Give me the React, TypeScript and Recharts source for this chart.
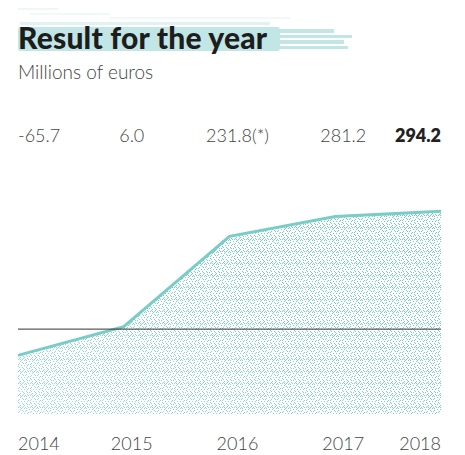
import { Area, AreaChart, ReferenceLine, XAxis, YAxis } from "recharts";

const years = ["2014", "2015", "2016", "2017", "2018"];
const results = [-65.7, 6.0, 231.8, 281.2, 294.2];
const valueLabels = ["-65.7", "6.0", "231.8(*)", "281.2", "294.2"];

const data = years.map((year, i) => ({ year, result: results[i], label: valueLabels[i] }));

const TEAL = "#79cdc7";
const DOT = "#6fcac3";
const FONT = "Lato, 'Noto Sans', sans-serif";

// hand-placed speckles for the stipple tile (12x12)
const SPECKLES = [
  [0, 0], [5, 1], [9, 0], [2, 2], [7, 3], [11, 3], [4, 4], [0, 5], [9, 5], [6, 6], [2, 7],
  [10, 7], [5, 8], [8, 9], [0, 9], [3, 10], [11, 10], [6, 11], [1, 11], [3, 5], [8, 1],
  [10, 11], [1, 3], [6, 4], [10, 2], [3, 8], [7, 7], [11, 8], [4, 11], [8, 11], [2, 0], [7, 10],
];

function anchorFor(index: number) {
  if (index === 0) return { anchor: "start", dx: 0 };
  if (index === years.length - 1) return { anchor: "end", dx: 0 };
  return { anchor: "middle", dx: 8 };
}

function YearTick({ x, y, payload, index }: any) {
  const { anchor, dx } = anchorFor(index);
  return (
    <text x={x + dx} y={y + 28} textAnchor={anchor} fill="#444" fontSize={18} fontFamily={FONT} fontWeight={300}>
      {payload.value}
    </text>
  );
}

function ValueTick({ x, y, payload, index }: any) {
  const { anchor, dx } = anchorFor(index);
  const last = index === years.length - 1;
  return (
    <text
      x={x + dx}
      y={y - 59}
      textAnchor={anchor}
      fill={last ? "#222" : "#444"}
      fontSize={18}
      fontFamily={FONT}
      fontWeight={last ? 800 : 300}
    >
      {valueLabels[years.indexOf(payload.value)]}
    </text>
  );
}

function Title() {
  return (
    <div style={{ position: "absolute", left: 0, top: 0, width: 465, height: 90 }}>
      <svg width={465} height={60} style={{ position: "absolute", left: 0, top: 0 }}>
        <g fill="#c2e6e5">
          <rect x={18} y={27} width={262} height={24} rx={3} />
          <rect x={270} y={29} width={64} height={4} />
          <rect x={268} y={35} width={84} height={3} />
          <rect x={272} y={40} width={72} height={4} />
          <rect x={268} y={46} width={80} height={3} />
          <rect x={20} y={22} width={250} height={3} opacity={0.5} />
          <rect x={18} y={8} width={40} height={2} opacity={0.3} />
          <rect x={30} y={13} width={80} height={2} opacity={0.25} />
          <rect x={110} y={17} width={180} height={2} opacity={0.25} />
        </g>
      </svg>
      <div
        style={{
          position: "absolute",
          left: 18,
          top: 21,
          fontFamily: FONT,
          fontWeight: 900,
          fontSize: 30,
          color: "#1d1d1d",
          lineHeight: "32px",
          letterSpacing: 0.2,
        }}
      >
        Result for the year
      </div>
      <div
        style={{
          position: "absolute",
          left: 18,
          top: 61,
          fontFamily: FONT,
          fontWeight: 300,
          fontSize: 19,
          color: "#444",
          lineHeight: "22px",
        }}
      >
        Millions of euros
      </div>
    </div>
  );
}

export default function App() {
  return (
    <div style={{ position: "absolute", left: 0, top: 0, width: 465, height: 455, background: "#fff" }}>
      <Title />
      <div style={{ position: "absolute", left: 0, top: 0 }}>
        <AreaChart width={465} height={455} data={data} margin={{ top: 129, right: 24, left: 18, bottom: 0 }}>
          <defs>
            <pattern id="dots" width={12} height={12} patternUnits="userSpaceOnUse">
              {SPECKLES.map(([px, py], i) => (
                <rect key={i} x={px} y={py} width={1} height={1} fill={DOT} />
              ))}
            </pattern>
            <linearGradient id="fade" x1="0" y1="1" x2="1" y2="0">
              <stop offset="0%" stopColor="#fff" stopOpacity={0.35} />
              <stop offset="55%" stopColor="#fff" stopOpacity={0.1} />
              <stop offset="100%" stopColor="#fff" stopOpacity={0} />
            </linearGradient>
          </defs>
          <XAxis
            dataKey="year"
            xAxisId="bottom"
            height={41}
            axisLine={false}
            tickLine={false}
            interval={0}
            tick={<YearTick />}
          />
          <XAxis
            dataKey="year"
            xAxisId="top"
            orientation="top"
            height={80}
            axisLine={false}
            tickLine={false}
            interval={0}
            tick={<ValueTick />}
          />
          <YAxis hide domain={[-212, 300]} allowDataOverflow />
          <Area
            xAxisId="bottom"
            type="linear"
            dataKey="result"
            baseValue="dataMin"
            stroke="none"
            fill="url(#dots)"
            fillOpacity={1}
            isAnimationActive={false}
          />
          <Area
            xAxisId="bottom"
            type="linear"
            dataKey="result"
            baseValue="dataMin"
            stroke={TEAL}
            strokeWidth={3}
            fill="url(#fade)"
            fillOpacity={1}
            dot={false}
            activeDot={false}
            isAnimationActive={false}
          />
          <ReferenceLine xAxisId="bottom" y={0} stroke="#333" strokeWidth={1} />
        </AreaChart>
      </div>
    </div>
  );
}
